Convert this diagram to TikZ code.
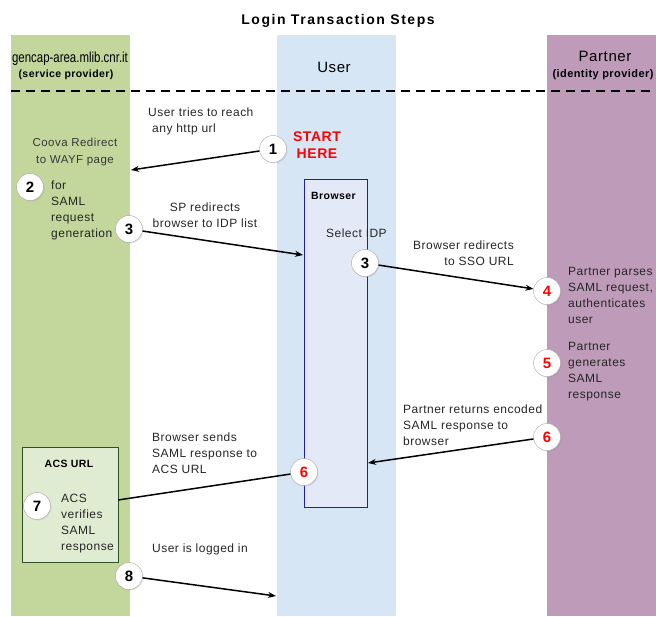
\documentclass[tikz,border=0pt]{standalone}
\usepackage{fontspec}
\setmainfont{Liberation Sans}[LetterSpace=4]
\newfontfamily\titlefont{Liberation Sans}[LetterSpace=11]
\newfontfamily\narrowfont{Liberation Sans}
\usepackage{graphicx}
\usetikzlibrary{arrows.meta,shadows}
\definecolor{spgreen}{RGB}{195,214,155}
\definecolor{userblue}{RGB}{214,230,245}
\definecolor{idppurple}{RGB}{191,155,186}
\definecolor{browserfill}{RGB}{228,233,248}
\definecolor{browserline}{RGB}{32,32,160}
\definecolor{acsfill}{RGB}{224,236,210}
\definecolor{acsline}{RGB}{50,80,40}
\definecolor{notegray}{RGB}{56,56,56}

\begin{document}
\begin{tikzpicture}[x=1pt,y=-1pt,
    num/.style={circle,draw=gray!70,fill=white,minimum size=27pt,inner sep=0pt,
      font=\fontsize{15}{15}\selectfont\bfseries,
      drop shadow={opacity=0.2,shadow xshift=1pt,shadow yshift=-1pt}},
    rednum/.style={num,text=red},
    txt/.style={align=left,inner sep=0pt,font=\fontsize{12}{16}\selectfont,text=black!85},
    boxtitle/.style={inner sep=0pt,font=\fontsize{10.5}{12}\selectfont\bfseries},
    flow/.style={-{Stealth[length=8pt,width=6pt]},line width=1.5pt}]
  \useasboundingbox (0,0) rectangle (656,616);

  % swimlanes
  \fill[spgreen] (11,35) rectangle (130,616);
  \fill[userblue] (277,35) rectangle (396,616);
  \fill[idppurple] (547,35) rectangle (656,616);
  \draw[line width=1.8pt,dash pattern=on 9pt off 6pt] (11,91) -- (656,91);

  \node[anchor=base,inner sep=0pt,font=\fontsize{14}{14}\titlefont\bfseries] (title) at (338,24) {Login Transaction Steps};
  \node[anchor=base,inner sep=0pt] (sp) at (70,62) {\scalebox{0.79}[1]{\fontsize{14.5}{15}\narrowfont gencap-area.mlib.cnr.it}};
  \node[boxtitle,anchor=base] (sprole) at (66,77) {(service provider)};
  \node[anchor=base,inner sep=0pt,font=\fontsize{15}{15}\selectfont] (user) at (334,72) {User};
  \node[anchor=base,inner sep=0pt,font=\fontsize{15}{15}\selectfont] (idp) at (605,61) {Partner};
  \node[boxtitle,anchor=base,font=\fontsize{11}{12}\selectfont\bfseries] (idprole) at (603,77) {(identity provider)};

  % browser and ACS boxes
  \node[draw=browserline,fill=browserfill,line width=0.8pt,anchor=north west,
    minimum width=63pt,minimum height=328pt] (browser) at (304,179) {};
  \node[boxtitle,anchor=west] at (311,196) {Browser};
  \node[draw=acsline,fill=acsfill,line width=0.8pt,anchor=north west,
    minimum width=96pt,minimum height=115pt] (acs) at (22,447) {};
  \node[boxtitle] at (69,464) {ACS URL};

  % step circles
  \node[num] (n1) at (273,149) {1};
  \node[num] (n2) at (30,187) {2};
  \node[num] (n3a) at (129,229) {3};
  \node[num] (n3b) at (365,263) {3};
  \node[rednum] (n4) at (547,291) {4};
  \node[rednum] (n5) at (547,363) {5};
  \node[rednum] (n6a) at (547,437) {6};
  \node[rednum] (n6b) at (304,472) {6};
  \node[num] (n7) at (37,506) {7};
  \node[num] (n8) at (129,576) {8};

  \node[align=center,text=red,font=\fontsize{14}{17}\selectfont\bfseries] (start) at (317,145) {START\\HERE};

  % connectors
  \coordinate (wayf) at (131,170);
  \coordinate (idplist) at (303,255);
  \coordinate (ret) at (368,463);
  \coordinate (acsin) at (118,500);
  \coordinate (loggedin) at (276,596);
  \draw[flow] (n1) -- (wayf);
  \draw[flow] (n3a) -- (idplist);
  \draw[flow] (n3b) -- (n4);
  \draw[flow] (n6a) -- (ret);
  \draw[line width=1.5pt] (n6b) -- (acsin);
  \draw[flow] (n8) -- (loggedin);

  % step notes
  \node[txt,anchor=north west] at (148,107.5) {User tries to reach\\\hspace{4pt}any http url};
  \node[txt,align=center,anchor=north,text=notegray,font=\fontsize{11.5}{17}\selectfont] at (75,137.5) {Coova Redirect\\to WAYF page};
  \node[txt,anchor=north west] at (51,180.5) {for\\SAML\\request\\generation};
  \node[txt,align=center,anchor=north] at (205,202.5) {SP redirects\\browser to IDP list};
  \node[txt,anchor=base west] at (326,237) {Select IDP};
  \node[txt,align=right,anchor=north east] at (514,240.5) {Browser redirects\\to SSO URL};
  \node[txt,anchor=north west] at (568,267.5) {Partner parses\\SAML request,\\authenticates\\user};
  \node[txt,anchor=north west] at (568,342.5) {Partner\\generates\\SAML\\response};
  \node[txt,anchor=north west] at (403,404.5) {Partner returns encoded\\SAML response to\\browser};
  \node[txt,anchor=north west] at (152,432.5) {Browser sends\\SAML response to\\ACS URL};
  \node[txt,anchor=north west] at (61,493.5) {ACS\\verifies\\SAML\\response};
  \node[txt,anchor=base west] at (152,552) {User is logged in};
\end{tikzpicture}
\end{document}
